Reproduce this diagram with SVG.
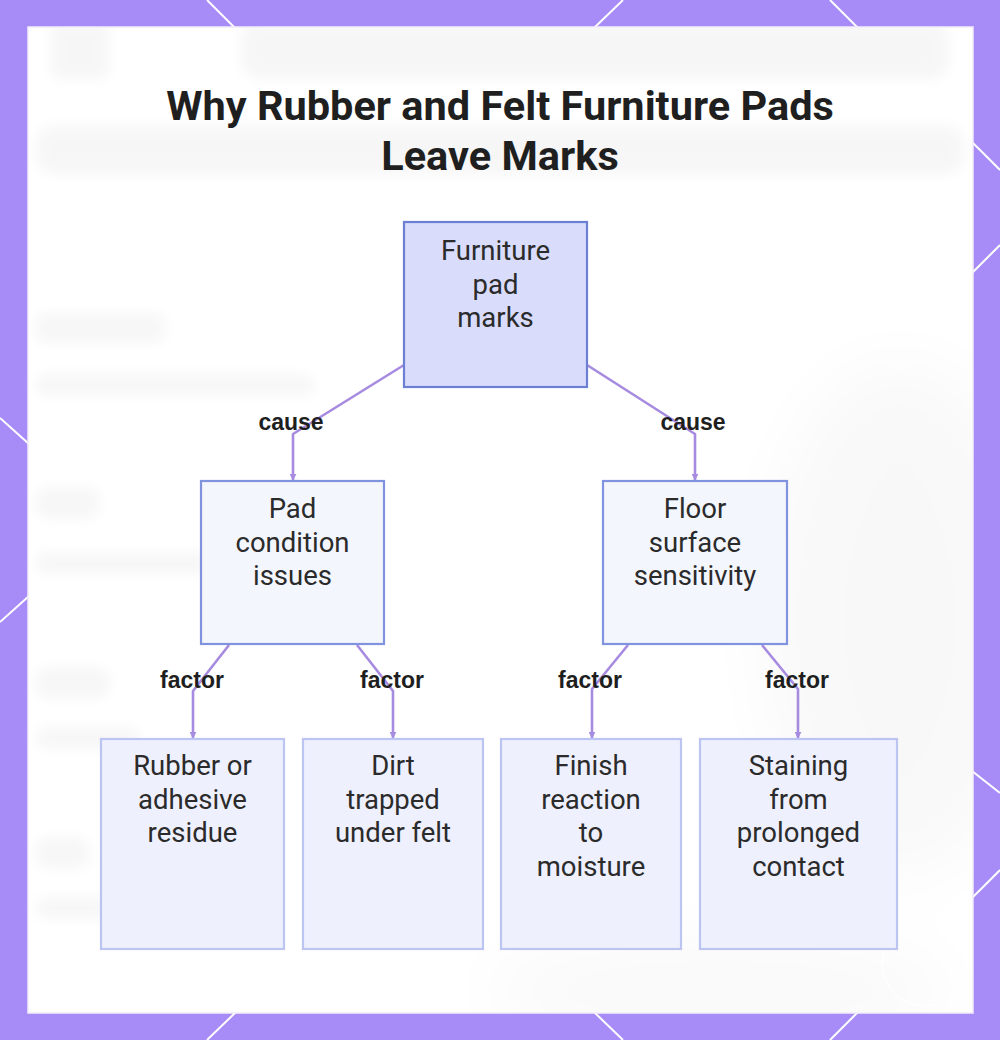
<svg xmlns="http://www.w3.org/2000/svg" width="1000" height="1040" viewBox="0 0 1000 1040">
  <defs>
    <style>
      .node-main rect { fill: #d9ddfb; stroke: #6c7fd2; stroke-width: 2.2; }
      .node-mid rect { fill: #f4f6fe; stroke: #8093df; stroke-width: 2.2; }
      .node-leaf rect { fill: #eef0fd; stroke: #bcc5f1; stroke-width: 2.2; }
      .ntext { font-family: Roboto, "Liberation Sans", sans-serif; font-size: 27.5px; fill: #2b2b2b; text-anchor: middle; }
      .edge { fill: none; stroke: #a78be0; stroke-width: 2.6; stroke-linejoin: round; }
      .elabel { font-family: "Liberation Sans", Arial, sans-serif; font-weight: bold; font-size: 23px; fill: #1e1e1e; text-anchor: middle; }
      .title { font-family: Roboto, "Liberation Sans", sans-serif; font-weight: bold; font-size: 41.5px; fill: #1f1f1f; text-anchor: middle; }
      .deco { stroke: #ffffff; stroke-width: 2; fill: none; }
    </style>
    <marker id="arrow" viewBox="0 0 10 10" refX="9" refY="5" markerWidth="7" markerHeight="7" markerUnits="userSpaceOnUse" orient="auto">
      <path d="M0,0 L10,5 L0,10 z" fill="#a78be0"/>
    </marker>
    <filter id="blur" x="-20%" y="-50%" width="140%" height="200%">
      <feGaussianBlur stdDeviation="7"/>
    </filter>
    <filter id="blurBig" x="-50%" y="-50%" width="200%" height="200%">
      <feGaussianBlur stdDeviation="35"/>
    </filter>
    <clipPath id="panelClip">
      <rect x="29" y="28" width="943" height="984"/>
    </clipPath>
  </defs>

  <!-- frame -->
  <rect x="0" y="0" width="1000" height="1040" fill="#a78bf7"/>
  <g class="deco">
    <line x1="207" y1="0" x2="235" y2="28"/>
    <line x1="623" y1="0" x2="594" y2="28"/>
    <line x1="830" y1="0" x2="858" y2="28"/>
    <line x1="236" y1="1012" x2="207" y2="1040"/>
    <line x1="594" y1="1012" x2="623" y2="1040"/>
    <line x1="858" y1="1012" x2="830" y2="1040"/>
    <line x1="0" y1="418" x2="29" y2="444"/>
    <line x1="29" y1="596" x2="0" y2="622"/>
    <line x1="972" y1="142" x2="1000" y2="170"/>
    <line x1="972" y1="273" x2="1000" y2="245"/>
    <line x1="972" y1="771" x2="1000" y2="793"/>
    <line x1="972" y1="898" x2="1000" y2="870"/>
  </g>

  <!-- panel -->
  <rect x="28" y="27" width="945" height="986" fill="#fbfbfd" stroke="#f3eefa" stroke-width="1.5"/>
  <g clip-path="url(#panelClip)">
    <rect x="29" y="28" width="943" height="984" fill="#ffffff"/>
    <g fill="#000000" opacity="0.03" filter="url(#blur)">
      <rect x="50" y="20" width="60" height="60" rx="10"/>
      <rect x="240" y="20" width="710" height="60" rx="20"/>
      <rect x="35" y="125" width="930" height="50" rx="20"/>
      <rect x="35" y="312" width="130" height="32" rx="12"/>
      <rect x="35" y="374" width="280" height="22" rx="10"/>
      <rect x="35" y="487" width="65" height="32" rx="12"/>
      <rect x="35" y="552" width="175" height="22" rx="10"/>
      <rect x="35" y="667" width="75" height="32" rx="12"/>
      <rect x="35" y="727" width="105" height="22" rx="10"/>
      <rect x="35" y="837" width="55" height="32" rx="12"/>
      <rect x="35" y="897" width="75" height="22" rx="10"/>
    </g>
    <g fill="#000000" opacity="0.025" filter="url(#blurBig)">
      <ellipse cx="900" cy="620" rx="140" ry="260"/>
      <ellipse cx="720" cy="990" rx="240" ry="50"/>
    </g>
    <circle cx="925" cy="963" r="43" fill="none" stroke="#ffffff" stroke-width="1.2" opacity="0.9"/>
  </g>

  <!-- title -->
  <g id="title">
    <text class="title" x="500" y="120">Why Rubber and Felt Furniture Pads</text>
    <text class="title" x="500" y="170">Leave Marks</text>
  </g>

  <!-- connectors -->
  <g id="connectors">
    <path class="edge" d="M404,365 L293,434 L293,480" marker-end="url(#arrow)"/>
    <path class="edge" d="M587,365 L695,434 L695,480" marker-end="url(#arrow)"/>
    <path class="edge" d="M229,645 L193,691 L193,738" marker-end="url(#arrow)"/>
    <path class="edge" d="M357,645 L393,691 L393,738" marker-end="url(#arrow)"/>
    <path class="edge" d="M628,645 L592,689 L592,738" marker-end="url(#arrow)"/>
    <path class="edge" d="M762,645 L798,689 L798,738" marker-end="url(#arrow)"/>
    <text class="elabel" x="291" y="430">cause</text>
    <text class="elabel" x="693" y="430">cause</text>
    <text class="elabel" x="192" y="688">factor</text>
    <text class="elabel" x="392" y="688">factor</text>
    <text class="elabel" x="590" y="688">factor</text>
    <text class="elabel" x="797" y="688">factor</text>
  </g>

  <!-- nodes -->
  <g id="node-marks" class="node-main">
    <rect x="404" y="222" width="183" height="165"/>
    <text class="ntext" x="495.5" y="260">Furniture</text>
    <text class="ntext" x="495.5" y="293.5">pad</text>
    <text class="ntext" x="495.5" y="327">marks</text>
  </g>
  <g id="node-pad" class="node-mid">
    <rect x="201" y="481" width="183" height="163"/>
    <text class="ntext" x="292.5" y="518">Pad</text>
    <text class="ntext" x="292.5" y="551.5">condition</text>
    <text class="ntext" x="292.5" y="585">issues</text>
  </g>
  <g id="node-floor" class="node-mid">
    <rect x="603" y="481" width="184" height="163"/>
    <text class="ntext" x="695" y="518">Floor</text>
    <text class="ntext" x="695" y="551.5">surface</text>
    <text class="ntext" x="695" y="585">sensitivity</text>
  </g>
  <g id="node-rubber" class="node-leaf">
    <rect x="101" y="739" width="183" height="210"/>
    <text class="ntext" x="192.5" y="775">Rubber or</text>
    <text class="ntext" x="192.5" y="808.5">adhesive</text>
    <text class="ntext" x="192.5" y="842">residue</text>
  </g>
  <g id="node-dirt" class="node-leaf">
    <rect x="303" y="739" width="180" height="210"/>
    <text class="ntext" x="393" y="775">Dirt</text>
    <text class="ntext" x="393" y="808.5">trapped</text>
    <text class="ntext" x="393" y="842">under felt</text>
  </g>
  <g id="node-finish" class="node-leaf">
    <rect x="501" y="739" width="180" height="210"/>
    <text class="ntext" x="591" y="775">Finish</text>
    <text class="ntext" x="591" y="808.5">reaction</text>
    <text class="ntext" x="591" y="842">to</text>
    <text class="ntext" x="591" y="875.5">moisture</text>
  </g>
  <g id="node-staining" class="node-leaf">
    <rect x="700" y="739" width="197" height="210"/>
    <text class="ntext" x="798.5" y="775">Staining</text>
    <text class="ntext" x="798.5" y="808.5">from</text>
    <text class="ntext" x="798.5" y="842">prolonged</text>
    <text class="ntext" x="798.5" y="875.5">contact</text>
  </g>
</svg>
